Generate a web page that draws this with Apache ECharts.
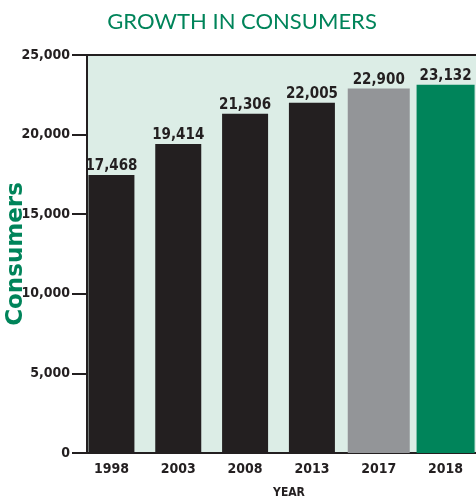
<!DOCTYPE html>
<html>
<head>
<meta charset="utf-8">
<script src="https://cdn.jsdelivr.net/npm/echarts@6/dist/echarts.min.js"></script>
<style>
  html, body { margin: 0; padding: 0; background: #ffffff; }
  #chart { width: 476px; height: 500px; }
</style>
</head>
<body>
<div id="chart"></div>
<script>
// Consumer counts by year
const years = ['1998', '2003', '2008', '2013', '2017', '2018'];
const consumers = [17468, 19414, 21306, 22005, 22900, 23132];
const yTicks = [0, 5000, 10000, 15000, 20000, 25000];

// Bar appearance per category (colour and pixel width)
const DARK = '#231f20';
const GREY = '#939598';
const GREEN = '#00845a';
const barLook = [
  { color: DARK, width: 46 },
  { color: DARK, width: 46 },
  { color: DARK, width: 46 },
  { color: DARK, width: 46 },
  { color: GREY, width: 62 },
  { color: GREEN, width: 58 }
];

const NUM_FONT = 'DejaVu Sans Condensed';
const fmt = v => v.toLocaleString('en-US');

const chart = echarts.init(document.getElementById('chart'), null, { renderer: 'canvas' });

chart.setOption({
  animation: false,
  backgroundColor: '#ffffff',
  graphic: [
    {
      type: 'text', x: 242, y: 22,
      style: {
        text: 'GROWTH IN CONSUMERS', fill: GREEN,
        font: '22px Lato', textAlign: 'center', textVerticalAlign: 'middle'
      }
    },
    {
      type: 'text', x: 289, y: 493,
      style: {
        text: 'YEAR', fill: DARK,
        font: 'bold 12px "DejaVu Sans Condensed"', textAlign: 'center', textVerticalAlign: 'middle'
      }
    }
  ],
  grid: [
    // frame, background and value axis
    { left: 87, right: 0, top: 55, bottom: 47, show: true, backgroundColor: '#dcede6', borderWidth: 0, outerBoundsMode: 'none', containLabel: false },
    // bar bands
    { left: 78, right: -3, top: 55, bottom: 47, outerBoundsMode: 'none', containLabel: false }
  ],
  xAxis: [
    {
      gridIndex: 0, type: 'value', min: 0, max: 1, position: 'bottom',
      axisLine: { show: true, lineStyle: { color: DARK, width: 2 } },
      axisTick: { show: false }, axisLabel: { show: false }, splitLine: { show: false }
    },
    {
      gridIndex: 0, type: 'value', min: 0, max: 1, position: 'top',
      axisLine: { show: true, lineStyle: { color: DARK, width: 2 } },
      axisTick: { show: false }, axisLabel: { show: false }, splitLine: { show: false }
    },
    {
      gridIndex: 1, type: 'category', data: years, position: 'bottom',
      axisLine: { show: false }, axisTick: { show: false },
      axisLabel: {
        show: true, color: DARK, margin: 9,
        fontFamily: NUM_FONT, fontWeight: 'bold', fontSize: 14
      }
    }
  ],
  yAxis: [
    {
      gridIndex: 0, type: 'value', min: 0, max: 25000, interval: 5000,
      axisLine: { show: true, lineStyle: { color: DARK, width: 2 } },
      axisTick: { show: true, length: 15, lineStyle: { color: DARK, width: 2 } },
      axisLabel: {
        color: DARK, margin: 17, fontFamily: NUM_FONT, fontWeight: 'bold', fontSize: 14,
        formatter: v => fmt(v)
      },
      splitLine: { show: false },
      name: 'Consumers', nameLocation: 'middle', nameGap: 59, nameRotate: 90,
      nameMoveOverlap: false,
      nameTextStyle: { color: GREEN, fontFamily: 'DejaVu Sans', fontWeight: 'bold', fontSize: 23 }
    },
    {
      gridIndex: 1, type: 'value', min: 0, max: 25000, show: false
    }
  ],
  series: [
    {
      type: 'custom',
      xAxisIndex: 2, yAxisIndex: 1,
      data: consumers.map((v, i) => [i, v]),
      encode: { x: 0, y: 1 },
      clip: false,
      renderItem: function (params, api) {
        const i = api.value(0);
        const v = api.value(1);
        const top = api.coord([i, v]);
        const base = api.coord([i, 0]);
        const look = barLook[i];
        return {
          type: 'rect',
          shape: { x: top[0] - look.width / 2, y: top[1], width: look.width, height: base[1] - top[1] },
          style: { fill: look.color },
          textContent: {
            style: {
              text: fmt(v), fill: DARK,
              font: 'bold 15px "DejaVu Sans Condensed"'
            }
          },
          textConfig: { position: 'top', distance: 1 }
        };
      }
    }
  ]
});
</script>
</body>
</html>
